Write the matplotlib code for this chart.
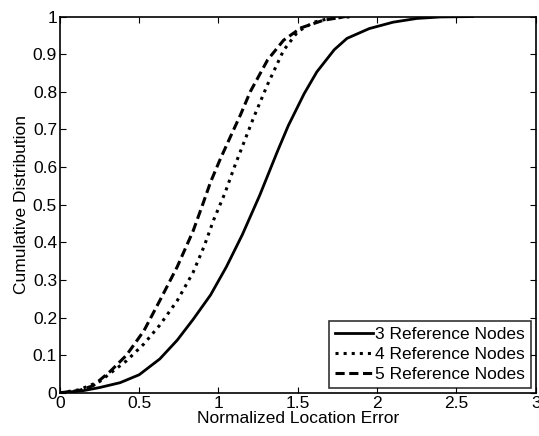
import matplotlib
matplotlib.use("Agg")
import matplotlib.pyplot as plt

plt.rcParams['font.family'] = ['Liberation Sans', 'DejaVu Sans']

# CDF (x = normalized location error)
x_3 = [0, 0.15, 0.25, 0.38, 0.5, 0.63, 0.74, 0.84, 0.95, 1.05, 1.15, 1.26, 1.37,
       1.44, 1.54, 1.62, 1.73, 1.81, 1.95, 2.1, 2.25, 2.4, 2.6]
cdf_3 = [0, 0.006, 0.014, 0.027, 0.048, 0.09, 0.14, 0.195, 0.26, 0.335, 0.42, 0.525, 0.64,
         0.71, 0.795, 0.853, 0.912, 0.942, 0.968, 0.985, 0.995, 0.999, 1.0]

x_4 = [0, 0.12, 0.25, 0.42, 0.53, 0.63, 0.74, 0.84, 0.91, 0.97, 1.04, 1.10, 1.16,
       1.22, 1.31, 1.41, 1.50, 1.60, 1.70, 1.85]
cdf_4 = [0, 0.008, 0.03, 0.085, 0.13, 0.18, 0.245, 0.32, 0.39, 0.46, 0.53, 0.60, 0.665,
         0.73, 0.82, 0.91, 0.96, 0.985, 0.995, 1.0]

x_5 = [0, 0.12, 0.21, 0.32, 0.42, 0.53, 0.63, 0.74, 0.84, 0.90, 0.95, 1.01, 1.08,
       1.14, 1.20, 1.31, 1.41, 1.52, 1.66, 1.80]
cdf_5 = [0, 0.006, 0.019, 0.058, 0.10, 0.165, 0.245, 0.335, 0.43, 0.50, 0.56, 0.62, 0.685,
         0.74, 0.80, 0.885, 0.937, 0.97, 0.99, 1.0]

labels = ['3 Reference Nodes', '4 Reference Nodes', '5 Reference Nodes']
x_ticks = [0, 0.5, 1, 1.5, 2, 2.5, 3]
x_tick_labels = ['0', '0.5', '1', '1.5', '2', '2.5', '3']
y_ticks = [0, 0.1, 0.2, 0.3, 0.4, 0.5, 0.6, 0.7, 0.8, 0.9, 1]
y_tick_labels = ['0', '0.1', '0.2', '0.3', '0.4', '0.5', '0.6', '0.7', '0.8', '0.9', '1']

fig = plt.figure(figsize=(5.39, 4.36), dpi=100)
ax = fig.add_axes([0.111, 0.099, 0.883, 0.863])

ax.plot(x_3, cdf_3, '-', color='black', lw=2.0, label=labels[0])
ax.plot(x_4, cdf_4, ':', color='black', lw=2.2, label=labels[1])
ax.plot(x_5, cdf_5, '--', color='black', lw=2.2, dashes=(3, 1.5), label=labels[2])

ax.set_xlim(0, 3)
ax.set_ylim(0, 1)
ax.set_xticks(x_ticks)
ax.set_xticklabels(x_tick_labels)
ax.set_yticks(y_ticks)
ax.set_yticklabels(y_tick_labels)
ax.tick_params(direction='in', top=True, right=True, labelsize=12.5, length=4, pad=2)
for s in ax.spines.values():
    s.set_linewidth(1.2)

ax.set_xlabel('Normalized Location Error', fontsize=12.5, labelpad=0)
ax.set_ylabel('Cumulative Distribution', fontsize=12.5, labelpad=3)

leg = ax.legend(loc='lower right', fontsize=12.5, frameon=True, fancybox=False,
                edgecolor='black', handlelength=2.2, handletextpad=0.15,
                borderpad=0.3, labelspacing=0.3, borderaxespad=0.3)
leg.get_frame().set_linewidth(1.2)

fig.savefig('out.png', dpi=100)
